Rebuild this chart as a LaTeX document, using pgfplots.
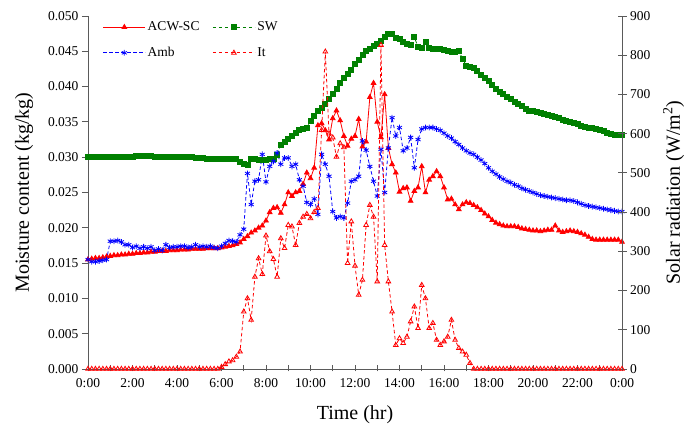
\documentclass[border=0pt]{standalone}
\usepackage{fontspec}
\setmainfont{Liberation Serif}
\usepackage{pgfplots}
\usepackage{pgfplotstable}
\pgfplotsset{compat=1.18}
\definecolor{xgreen}{RGB}{0,128,0}
\definecolor{axgray}{RGB}{90,90,90}

\pgfplotstableread{
t acw sw amb it
0 0.0155 0.0300 0.0155 0
10 0.0156 0.0300 0.0152 0
20 0.0157 0.0300 0.0152 0
30 0.0157 0.0301 0.0153 0
40 0.0158 0.0301 0.0154 0
50 0.0159 0.0301 0.0155 0
60 0.0160 0.0301 0.0181 0
70 0.0161 0.0301 0.0181 0
80 0.0161 0.0301 0.0182 0
90 0.0162 0.0300 0.0180 0
100 0.0162 0.0300 0.0176 0
110 0.0163 0.0301 0.0176 0
120 0.0163 0.0301 0.0172 0
130 0.0164 0.0302 0.0174 0
140 0.0164 0.0302 0.0171 0
150 0.0165 0.0302 0.0173 0
160 0.0165 0.0302 0.0171 0
170 0.0166 0.0302 0.0173 0
180 0.0166 0.0301 0.0168 0
190 0.0167 0.0301 0.0170 0
200 0.0167 0.0300 0.0168 0
210 0.0167 0.0301 0.0176 0
220 0.0168 0.0301 0.0172 0
230 0.0168 0.0301 0.0173 0
240 0.0168 0.0301 0.0173 0
250 0.0169 0.0300 0.0174 0
260 0.0169 0.0300 0.0174 0
270 0.0169 0.0300 0.0172 0
280 0.0170 0.0300 0.0173 0
290 0.0170 0.0299 0.0176 0
300 0.0170 0.0299 0.0173 0
310 0.0170 0.0299 0.0174 0
320 0.0171 0.0298 0.0173 0
330 0.0171 0.0297 0.0174 0
340 0.0171 0.0297 0.0172 0
350 0.0171 0.0298 0.0171 0
360 0.0172 0.0298 0.0174 5
370 0.0173 0.0298 0.0178 12
380 0.0174 0.0297 0.0182 19
390 0.0175 0.0298 0.0181 22
400 0.0177 0.0297 0.0180 31
410 0.0179 0.0293 0.0190 44
420 0.0184 0.0291 0.0198 146
430 0.0188 0.0289 0.0277 180
440 0.0193 0.0298 0.0233 125
450 0.0196 0.0297 0.0266 235
460 0.0200 0.0296 0.0268 282
470 0.0203 0.0296 0.0304 242
480 0.0210 0.0296 0.0265 340
490 0.0222 0.0297 0.0287 300
500 0.0228 0.0298 0.0294 280
510 0.0229 0.0303 0.0306 235
520 0.0221 0.0318 0.0290 333
530 0.0233 0.0322 0.0299 308
540 0.0250 0.0326 0.0299 367
550 0.0245 0.0330 0.0287 363
560 0.0250 0.0334 0.0290 316
570 0.0252 0.0338 0.0268 372
580 0.0262 0.0340 0.0259 388
590 0.0278 0.0341 0.0236 395
600 0.0270 0.0352 0.0233 384
610 0.0285 0.0358 0.0241 400
620 0.0345 0.0365 0.0219 410
630 0.0348 0.0370 0.0304 609
640 0.0338 0.0376 0.0290 809
650 0.0325 0.0382 0.0273 600
660 0.0355 0.0390 0.0223 590
670 0.0366 0.0397 0.0214 541
680 0.0352 0.0405 0.0216 575
690 0.0330 0.0412 0.0214 565
700 0.0316 0.0418 0.0235 270
710 0.0326 0.0424 0.0266 376
720 0.0330 0.0432 0.0268 263
730 0.0354 0.0438 0.0273 189
740 0.0315 0.0445 0.0323 227
750 0.0322 0.0450 0.0310 367
760 0.0385 0.0454 0.0287 418
770 0.0405 0.0458 0.0266 388
780 0.0350 0.0461 0.0245 223
790 0.0328 0.0465 0.0311 826
800 0.0389 0.0470 0.0250 316
810 0.0313 0.0474 0.0313 223
820 0.0290 0.0474 0.0356 146
830 0.0278 0.0469 0.0330 61
840 0.0251 0.0467 0.0342 78
850 0.0256 0.0463 0.0309 66
860 0.0257 0.0460 0.0313 82
870 0.0238 0.0459 0.0328 121
880 0.0252 0.0470 0.0285 159
890 0.0257 0.0456 0.0325 104
900 0.0287 0.0455 0.0340 214
910 0.0250 0.0463 0.0342 180
920 0.0268 0.0455 0.0342 104
930 0.0273 0.0454 0.0342 117
940 0.0280 0.0453 0.0340 74
950 0.0273 0.0453 0.0338 61
960 0.0257 0.0452 0.0334 70
970 0.0240 0.0450 0.0330 82
980 0.0241 0.0449 0.0327 125
990 0.0233 0.0449 0.0322 74
1000 0.0226 0.0451 0.0318 53
1010 0.0233 0.0439 0.0313 44
1020 0.0236 0.0430 0.0309 36
1030 0.0235 0.0428 0.0306 15
1040 0.0232 0.0426 0.0304 0
1050 0.0229 0.0422 0.0300 0
1060 0.0225 0.0416 0.0296 0
1070 0.0220 0.0412 0.0291 0
1080 0.0216 0.0408 0.0285 0
1090 0.0211 0.0402 0.0280 0
1100 0.0207 0.0397 0.0276 0
1110 0.0205 0.0393 0.0272 0
1120 0.0203 0.0389 0.0269 0
1130 0.0202 0.0386 0.0266 0
1140 0.0202 0.0382 0.0264 0
1150 0.0202 0.0378 0.0261 0
1160 0.0201 0.0375 0.0259 0
1170 0.0199 0.0372 0.0256 0
1180 0.0198 0.0369 0.0254 0
1190 0.0197 0.0366 0.0252 0
1200 0.0196 0.0365 0.0250 0
1210 0.0196 0.0364 0.0248 0
1220 0.0195 0.0363 0.0246 0
1230 0.0196 0.0361 0.0245 0
1240 0.0197 0.0360 0.0244 0
1250 0.0197 0.0358 0.0243 0
1260 0.0203 0.0357 0.0242 0
1270 0.0196 0.0355 0.0241 0
1280 0.0194 0.0353 0.0240 0
1290 0.0195 0.0352 0.0239 0
1300 0.0196 0.0350 0.0239 0
1310 0.0195 0.0349 0.0238 0
1320 0.0194 0.0347 0.0236 0
1330 0.0192 0.0345 0.0234 0
1340 0.0190 0.0343 0.0232 0
1350 0.0187 0.0342 0.0231 0
1360 0.0184 0.0341 0.0230 0
1370 0.0183 0.0340 0.0229 0
1380 0.0183 0.0339 0.0228 0
1390 0.0183 0.0337 0.0227 0
1400 0.0183 0.0335 0.0226 0
1410 0.0183 0.0333 0.0225 0
1420 0.0183 0.0332 0.0224 0
1430 0.0183 0.0332 0.0223 0
1440 0.0180 0.0332 0.0223 0
}\data

\pgfplotsset{
  commonax/.style={
    scale only axis, width=534pt, height=353pt,
    xmin=0, xmax=1440,
    axis line style={axgray, line width=0.9pt},
    every tick/.style={axgray, line width=0.9pt},
    tick label style={font=\fontsize{13.5}{15}\selectfont, black},
    label style={font=\fontsize{20}{24}\selectfont},
    /pgf/number format/assume math mode=true,
  },
  dsh/.style={dash pattern=on 3.5pt off 2.5pt},
}

\begin{document}
\begin{tikzpicture}
\begin{axis}[
  commonax,
  ymin=0, ymax=0.05,
  axis x line*=bottom, axis y line*=left,
  xtick={0,60,...,1440},
  xticklabels={0:00,,2:00,,4:00,,6:00,,8:00,,10:00,,12:00,,14:00,,16:00,,18:00,,20:00,,22:00,,0:00},
  ytick={0,0.005,0.01,0.015,0.02,0.025,0.03,0.035,0.04,0.045,0.05},
  scaled y ticks=false,
  yticklabel style={/pgf/number format/.cd, fixed, fixed zerofill, precision=3},
  tick align=outside, major tick length=6pt,
  xtick style={yshift=3.5pt},
  xlabel={Time (hr)},
  ylabel={Moisture content (kg/kg)},
  xlabel shift=11pt,
  ylabel shift=8pt,
  legend columns=2,
  legend cell align=left,
  legend style={draw=none, fill=none, at={(0.022,0.995)}, anchor=north west,
    font=\fontsize{13.5}{15}\selectfont, row sep=11pt,
    /tikz/every even column/.append style={column sep=11pt}},
  legend image code/.code={\draw[mark repeat=2,mark phase=2,#1] plot coordinates {(0pt,0pt)(21pt,0pt)(42pt,0pt)};},
]
\addplot[red, line width=0.8pt, mark=triangle*, mark size=2.7pt] table[x=t,y=acw] {\data};
\addlegendentry{ACW-SC}
\addplot[xgreen, line width=0.8pt, dsh, mark=square*, mark size=2.5pt, mark options={solid}] table[x=t,y=sw] {\data};
\addlegendentry{SW}
\addplot[blue, line width=0.8pt, dsh, mark=asterisk, mark size=2.9pt, mark options={solid}] table[x=t,y=amb] {\data};
\addlegendentry{Amb}
\addlegendimage{red, line width=0.8pt, dsh, mark=triangle, mark size=2.7pt, mark options={solid}}
\addlegendentry{It}
\end{axis}
\begin{axis}[
  commonax,
  ymin=0, ymax=900,
  axis x line=none, axis y line*=right,
  ytick={0,100,...,900},
  tick align=center, major tick length=9pt,
  ylabel={Solar radiation (W/m\textsuperscript{2})},
  ylabel shift=6pt,
]
\addplot[red, line width=0.8pt, dsh, mark=triangle, mark size=2.7pt, mark options={solid}] table[x=t,y=it] {\data};
\coordinate (BL) at (rel axis cs:0,0);
\coordinate (TR) at (rel axis cs:1,1);
\end{axis}
\pgfresetboundingbox
\path[use as bounding box] ([xshift=-88pt,yshift=-58pt]BL) rectangle ([xshift=74pt,yshift=16pt]TR);
\end{tikzpicture}
\end{document}
